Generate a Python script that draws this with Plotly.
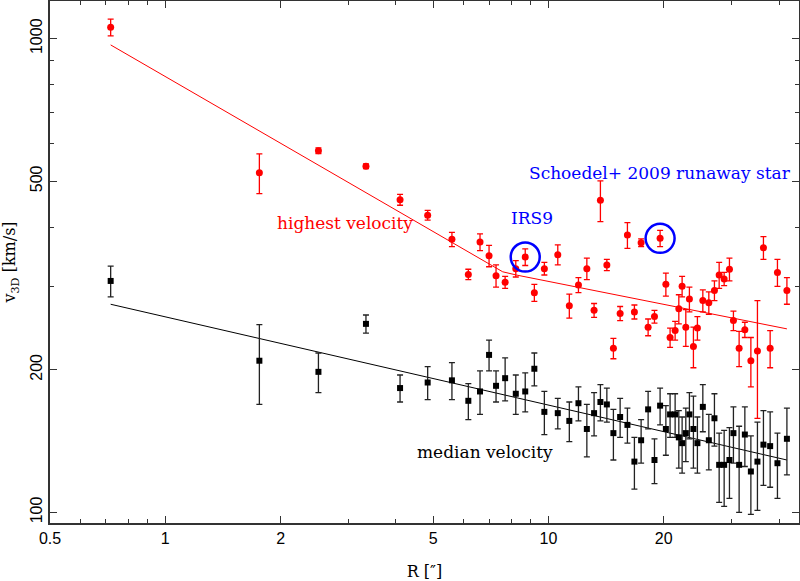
import plotly.graph_objects as go
import math

# ---- data ----
R = [0.72, 1.76, 2.51, 3.34, 4.10, 4.84, 5.60, 6.18, 6.63, 7.00, 7.30, 7.71, 8.22, 8.70,
     9.19, 9.76, 10.58, 11.34, 11.98, 12.60, 13.16, 13.67, 14.21, 14.78, 15.39, 16.08,
     16.77, 17.46, 18.21, 18.92, 19.57, 20.26, 20.78, 21.42, 21.90, 22.34, 22.84, 23.34,
     23.91, 24.49, 25.30, 26.23, 27.13, 27.91, 28.76, 29.69, 30.41, 31.47, 32.57, 33.77,
     35.13, 36.42, 37.92, 39.62, 41.94]

v_high = [1057, 521, 580, 538, 457, 424, 377, 318, 372, 348, 316, 306, 327, 346,
          291, 327, 350, 273, 302, 327, 267, 456, 333, 222, 263, 385,
          265, 371, 246, 259, 379, 303, 234, 242, 269, 300, 246, 282,
          224, 245, 280, 277, 294, 317, 311, 326, 254, 222, 243, 209,
          219, 362, 222, 321, 294]
e_high = [43, 50, 8, 6, 12, 10, 13, 8, 15, 18, 17, 9, 13, 14,
          12, 10, 17, 16, 11, 17, 9, 45, 9, 11, 9, 24,
          9, 7, 10, 8, 15, 17, 11, 11, 19, 15, 22, 17,
          22, 14, 15, 15, 14, 20, 10, 18, 12, 19, 9, 25,
          61, 20, 20, 21, 19]

v_med = [308, 209, 198, 250, 183, 188, 190, 172, 180, 215, 185, 192, 178, 180,
         201, 163, 162, 156, 170, 150, 162, 171, 169, 147, 159, 153,
         128, 142, 165, 129, 168, 150, 161, 161, 144, 140, 147, 161,
         150, 140, 167, 142, 158, 126, 126, 129, 147, 126, 146, 122,
         128, 139, 138, 127, 143]
e_med = [23, 40, 19, 11, 12, 15, 17, 15, 19, 16, 14, 20, 17, 17,
         16, 17, 12, 15, 14, 19, 17, 15, 14, 18, 15, 13,
         16, 15, 15, 14, 15, 18, 17, 17, 20, 19, 19, 18,
         26, 19, 19, 19, 20, 21, 23, 22, 20, 26, 21, 23,
         27, 25, 25, 20, 23]

fit_high_R = [0.72, 7.0, 7.6, 8.25, 41.94]
fit_high_v = [970, 334, 322, 317, 244]
fit_med_R = [0.72, 41.94]
fit_med_v = [275, 129]

special_R = [8.70, 19.57]
special_v = [346, 379]

x_ticks = [0.5, 1, 2, 5, 10, 20]
x_minor = [0.6, 0.7, 0.8, 0.9, 3, 4, 6, 7, 8, 9, 30, 40]
y_ticks = [100, 200, 500, 1000]
y_minor = [300, 400, 600, 700, 800, 900]

SERIF = "DejaVu Serif"
SANS = "Liberation Sans"

fig = go.Figure()

fig.add_trace(go.Scatter(x=fit_high_R, y=fit_high_v, mode="lines",
                         line=dict(color="red", width=1), showlegend=False))
fig.add_trace(go.Scatter(x=fit_med_R, y=fit_med_v, mode="lines",
                         line=dict(color="black", width=1), showlegend=False))

fig.add_trace(go.Scatter(x=R, y=v_high, mode="markers",
                         marker=dict(color="red", size=7, symbol="circle"),
                         error_y=dict(type="data", array=e_high, color="red",
                                      thickness=1.3, width=3),
                         showlegend=False))
fig.add_trace(go.Scatter(x=R, y=v_med, mode="markers",
                         marker=dict(color="black", size=6, symbol="square"),
                         error_y=dict(type="data", array=e_med, color="#222222",
                                      thickness=1.3, width=3),
                         showlegend=False))
fig.add_trace(go.Scatter(x=special_R, y=special_v, mode="markers",
                         marker=dict(color="blue", size=29, symbol="circle-open",
                                     line=dict(color="blue", width=2.5)),
                         showlegend=False))

axis_common = dict(
    type="log", showgrid=False, zeroline=False, automargin=False,
    showline=True, linecolor="#333333", linewidth=1.5, mirror="allticks",
    ticks="inside", ticklen=7, tickwidth=1, tickcolor="#333333",
    tickfont=dict(family=SANS, size=16, color="black"),
)

fig.update_xaxes(**axis_common,
                 range=[math.log10(0.5), math.log10(45.1)],
                 tickvals=x_ticks, ticktext=[str(t) for t in x_ticks],
                 minor=dict(tickvals=x_minor, ticks="inside", ticklen=4, tickcolor="#333333"),
                 title=dict(text="R [″]", font=dict(family=SERIF, size=16, color="black"),
                            standoff=22))
fig.update_yaxes(**axis_common,
                 range=[1.9776, 3.0795],
                 tickvals=y_ticks, ticktext=[str(t) for t in y_ticks], tickangle=-90,
                 minor=dict(tickvals=y_minor, ticks="inside", ticklen=4, tickcolor="#333333"),
                 title=dict(text="v<sub>3D</sub> [km/s]", font=dict(family=SERIF, size=16, color="black"),
                            standoff=8))

annotations = [
    dict(text="highest velocity", x=0.3939, y=0.5753, color="red"),
    dict(text="IRS9", x=0.6429, y=0.5843, color="blue"),
    dict(text="Schoedel+ 2009 runaway star", x=0.8144, y=0.6711, color="blue"),
    dict(text="median velocity", x=0.5804, y=0.1366, color="black"),
]
for a in annotations:
    fig.add_annotation(text=a["text"], x=a["x"], y=a["y"], xref="paper", yref="paper",
                       showarrow=False, xanchor="center", yanchor="middle",
                       font=dict(family=SERIF, size=17, color=a["color"]))

fig.update_layout(
    width=800, height=581,
    margin=dict(l=50, r=1, t=1, b=58),
    plot_bgcolor="white", paper_bgcolor="white",
)

fig.write_html("out.html", config={"displayModeBar": False},
               post_script="document.body.style.margin='0';document.body.style.overflow='hidden';")
